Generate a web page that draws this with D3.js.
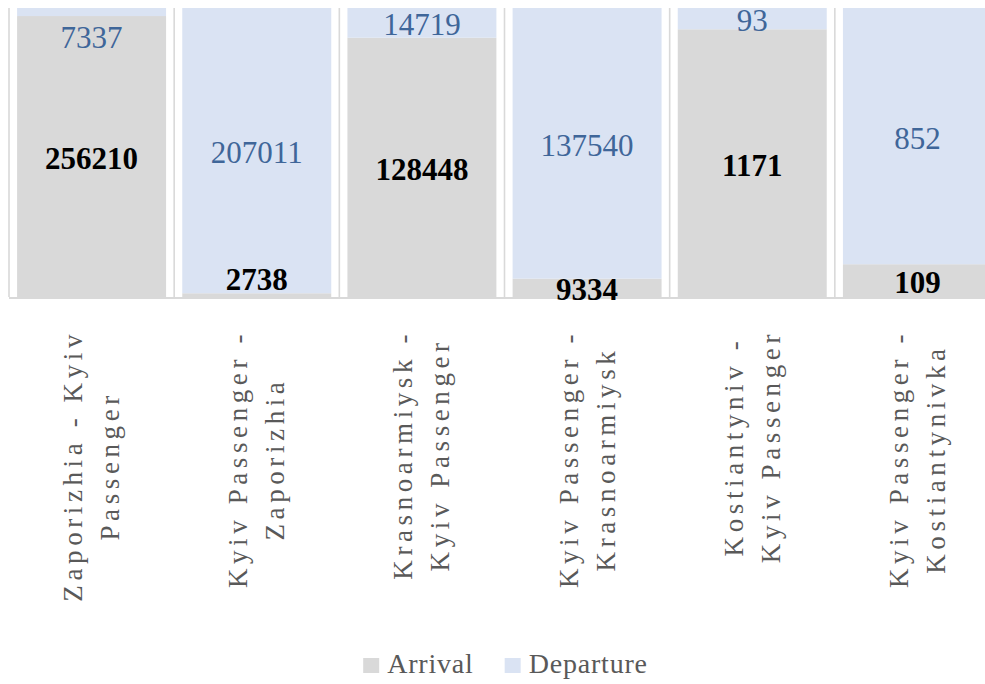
<!DOCTYPE html>
<html>
<head>
<meta charset="utf-8">
<script src="https://cdn.jsdelivr.net/npm/d3@7/dist/d3.min.js"></script>
<style>
  html, body { margin: 0; padding: 0; background: #fff; }
  svg { display: block; }
</style>
</head>
<body>
<div id="chart"></div>
<script>
// data
const routes = ["Zaporizhia - Kyiv Passenger", "Kyiv Passenger - Zaporizhia",
  "Krasnoarmiysk - Kyiv Passenger", "Kyiv Passenger - Krasnoarmiysk",
  "Kostiantyniv - Kyiv Passenger", "Kyiv Passenger - Kostiantynivka"];
const tickLines = [
  ["Zaporizhia - Kyiv", "Passenger"],
  ["Kyiv Passenger -", "Zaporizhia"],
  ["Krasnoarmiysk -", "Kyiv Passenger"],
  ["Kyiv Passenger -", "Krasnoarmiysk"],
  ["Kostiantyniv -", "Kyiv Passenger"],
  ["Kyiv Passenger -", "Kostiantynivka"]
];
const arrival   = [256210, 2738, 128448, 9334, 1171, 109];
const departure = [7337, 207011, 14719, 137540, 93, 852];
const seriesNames = ["Arrival", "Departure"];

const W = 985, H = 684;
let margin = {top: 8, left: 9, bottom: 297, right: 1000};
const colors = {Arrival: "#d9d9d9", Departure: "#dae3f3"};
const labelColors = {Arrival: "#000000", Departure: "#3f6699"};
const fs = 31;
const serif = "Liberation Serif";

const svg = d3.select("#chart").append("svg")
  .attr("width", W).attr("height", H);

const rows = routes.map((r, i) => ({route: r, Arrival: arrival[i], Departure: departure[i]}));
const stacked = d3.stack().keys(seriesNames).offset(d3.stackOffsetExpand)(rows);

let x = d3.scaleBand()
  .domain(routes)
  .range([margin.left, margin.right])
  .paddingInner(0.098)
  .paddingOuter(0.049);

let y = d3.scaleLinear().domain([0, 1]).range([margin.bottom, margin.top]);

// bars
svg.append("g")
  .selectAll("g")
  .data(stacked)
  .join("g")
    .attr("fill", d => colors[d.key])
  .selectAll("rect")
  .data(d => d)
  .join("rect")
    .attr("x", d => x(d.data.route))
    .attr("width", x.bandwidth())
    .attr("y", d => y(d[1]))
    .attr("height", d => y(d[0]) - y(d[1]));

// category separators
const step = x.step();
svg.append("g")
  .selectAll("line")
  .data(d3.range(routes.length + 1))
  .join("line")
    .attr("x1", i => margin.left + i * step)
    .attr("x2", i => margin.left + i * step)
    .attr("y1", margin.top)
    .attr("y2", margin.bottom)
    .attr("stroke", "#d9d9d9")
    .attr("stroke-width", 1.6);

// baseline
svg.append("line")
  .attr("x1", margin.left).attr("x2", W)
  .attr("y1", margin.bottom + 1).attr("y2", margin.bottom + 1)
  .attr("stroke", "#d9d9d9")
  .attr("stroke-width", 2);

// data labels
stacked.forEach(s => {
  svg.append("g")
    .selectAll("text")
    .data(s)
    .join("text")
      .attr("x", d => x(d.data.route) + x.bandwidth() / 2)
      .attr("y", d => {
        let top = y(d[1]), bot = y(d[0]);
        let c = (top + bot) / 2 + 2;
        // tiny segments: push the label inside the bar
        if (bot - top < 12) {
          c = s.key === "Departure" ? top + fs * 0.95 : bot - fs * 0.55;
        }
        return c + fs * 0.34;
      })
      .attr("text-anchor", "middle")
      .style("font-family", serif)
      .attr("font-size", fs)
      .attr("font-weight", s.key === "Arrival" ? "bold" : "normal")
      .attr("fill", labelColors[s.key])
      .text(d => d.data[s.key]);
});

// category labels, rotated
const lineH = 37;
routes.forEach((r, i) => {
  let cx = x(r) + x.bandwidth() / 2;
  let g = svg.append("g")
    .attr("transform", "translate(" + cx + ",330) rotate(-90)");
  let texts = g.selectAll("text")
    .data(tickLines[i])
    .join("text")
      .style("font-family", serif)
      .attr("font-size", 27)
      .attr("letter-spacing", 4.6)
      .attr("fill", "#595959")
      .attr("text-anchor", "middle")
      .attr("y", (d, j) => -9.5 + j * lineH)
      .text(d => d);
  let maxW = d3.max(texts.nodes(), n => n.getComputedTextLength());
  texts.attr("x", -maxW / 2);
});

// legend
const legend = svg.append("g");
let lx = 0;
seriesNames.forEach((name, i) => {
  let item = legend.append("g").attr("transform", "translate(" + lx + ",0)");
  item.append("rect")
    .attr("x", 0).attr("y", 658)
    .attr("width", 16).attr("height", 15)
    .attr("fill", colors[name]);
  let t = item.append("text")
    .attr("x", 24).attr("y", 673)
    .style("font-family", serif)
    .attr("font-size", 28)
    .attr("letter-spacing", 0.8)
    .attr("fill", "#595959")
    .text(name);
  lx += 24 + t.node().getComputedTextLength() + 31;
});
let legW = lx - 31;
legend.attr("transform", "translate(" + (505.5 - legW / 2) + ",0)");
</script>
</body>
</html>
